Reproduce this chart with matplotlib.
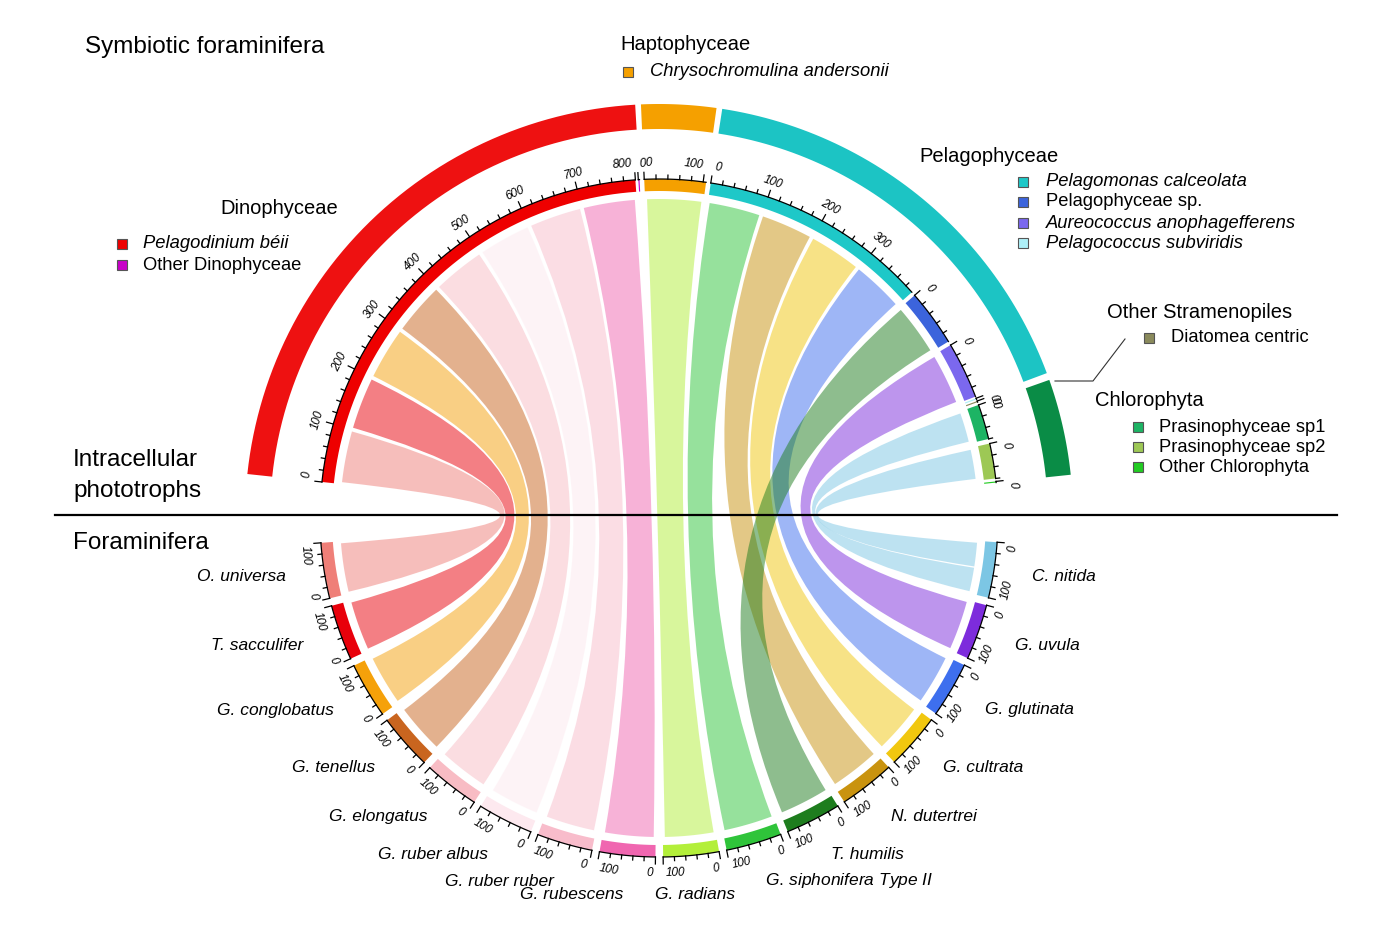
import numpy as np
import matplotlib.pyplot as plt
from matplotlib.path import Path
from matplotlib.patches import PathPatch, Polygon

plt.rcParams['font.family'] = ['Liberation Sans', 'DejaVu Sans']
plt.rcParams['mathtext.fontset'] = 'custom'
plt.rcParams['mathtext.it'] = 'Liberation Sans:italic'
plt.rcParams['mathtext.rm'] = 'Liberation Sans'

# ---- data -------------------------------------------------------------
# host sectors, clockwise from the right side of the lower half
hosts = ['C. nitida', 'G. uvula', 'G. glutinata', 'G. cultrata', 'N. dutertrei',
         'T. humilis', 'G. siphonifera Type II', 'G. radians', 'G. rubescens',
         'G. ruber ruber', 'G. ruber albus', 'G. elongatus', 'G. tenellus',
         'G. conglobatus', 'T. sacculifer', 'O. universa']
host_sizes = [100] * 16
host_colors = ['#7cc6e4', '#7d2cdc', '#3e6fee', '#f1c70f', '#c9930f',
               '#1e7d1e', '#2fc43a', '#b3ef3a', '#f066b0',
               '#f8bccb', '#fde9ef', '#f8bcc4', '#c9651f',
               '#f5a10a', '#e8000b', '#ef7f78']

# symbiont sectors, clockwise from the left side of the upper half
symbionts = ['Pelagodinium béii', 'Other Dinophyceae', 'Chrysochromulina andersonii',
             'Pelagomonas calceolata', 'Pelagophyceae sp.', 'Aureococcus anophagefferens',
             'Pelagococcus subviridis', 'Diatomea centric', 'Prasinophyceae sp1',
             'Prasinophyceae sp2', 'Other Chlorophyta']
sym_sizes = [800, 2, 105, 395, 97, 97, 2, 2, 60, 60, 2]
sym_italic = [True, False, True, True, False, True, True, False, False, False, False]
sym_colors = ['#ee0000', '#c800c8', '#f5a000', '#1ec8c8', '#3c64dc', '#7b68ee',
              '#aef0f8', '#8a8a5c', '#1db464', '#9dc855', '#22cc22']

groups = ['Dinophyceae', 'Haptophyceae', 'Pelagophyceae', 'Other Stramenopiles', 'Chlorophyta']
group_members = [[0, 1], [2], [3, 4, 5, 6], [7], [8, 9, 10]]
group_colors = ['#ee1111', '#f5a000', '#1cc4c4', None, '#0a8c46']

# links: host -> symbiont, width on host side / symbiont side
link_host = ['O. universa', 'T. sacculifer', 'G. conglobatus', 'G. tenellus',
             'G. elongatus', 'G. ruber albus', 'G. ruber ruber', 'G. rubescens',
             'G. radians', 'G. siphonifera Type II', 'N. dutertrei', 'G. cultrata',
             'G. glutinata', 'T. humilis', 'G. uvula', 'C. nitida', 'C. nitida']
link_sym = ['Pelagodinium béii'] * 8 + [
    'Chrysochromulina andersonii', 'Pelagomonas calceolata', 'Pelagomonas calceolata',
    'Pelagomonas calceolata', 'Pelagomonas calceolata', 'Pelagophyceae sp.',
    'Aureococcus anophagefferens', 'Prasinophyceae sp1', 'Prasinophyceae sp2']
link_host_w = [100] * 15 + [50, 50]
link_sym_w = [100] * 8 + [105, 99, 99, 99, 98, 97, 97, 60, 60]

# ---- geometry ---------------------------------------------------------
CX, CY = 659, 518
R_CHORD, R_TIN, R_TOUT = 319, 327, 339
R_GIN, R_GOUT = 389, 414


def pt(r, a):
    t = np.radians(a)
    return CX + r * np.cos(t), CY - r * np.sin(t)


def layout(sizes, gaps, a_start, a_end):
    k = (a_start - a_end - sum(gaps)) / sum(sizes)
    starts, a = [], a_start
    for i, s in enumerate(sizes):
        starts.append(a)
        a -= s * k
        if i < len(gaps):
            a -= gaps[i]
    return np.array(starts), k


sym_gaps = [0.5, 0.8, 0.8, 0.7, 0.7, 0.3, 0.3, 0.5, 0.8, 0.5]
sym_start, k_up = layout(sym_sizes, sym_gaps, 173.9, 6.0)
host_start, k_lo = layout(host_sizes, [1.3] * 15, -4.1, -175.8)


def band(r0, r1, a0, a1, n=60):
    aa = np.linspace(a0, a1, n)
    outer = [pt(r1, a) for a in aa]
    inner = [pt(r0, a) for a in aa[::-1]]
    return outer + inner


fig = plt.figure(figsize=(13.86, 9.33), dpi=100)
ax = fig.add_axes([0, 0, 1, 1])
ax.set_xlim(0, 1386)
ax.set_ylim(933, 0)
ax.set_aspect('equal')
ax.axis('off')


def draw_axis(a0, k, size, upper):
    aa = np.linspace(a0, a0 - size * k, 40)
    xy = np.array([pt(R_TOUT, a) for a in aa])
    ax.plot(xy[:, 0], xy[:, 1], color='black', lw=0.9, zorder=4)
    for v in range(0, int(size) + 1, 20):
        a = a0 - v * k
        major = v % 100 == 0
        p1, p2 = pt(R_TOUT, a), pt(R_TOUT + (7 if major else 4), a)
        ax.plot([p1[0], p2[0]], [p1[1], p2[1]], color='black', lw=0.9, zorder=4)
        if not major:
            continue
        if v == 0:
            ha = 'left' if upper else 'right'
            a -= 0.35
        elif size - v < 10:
            ha = 'right' if upper else 'left'
            a += 0.35
        else:
            ha = 'center'
        x, y = pt(R_TOUT + 10, a)
        ax.text(x, y, str(v), rotation=(a - 90) if upper else (a + 90),
                rotation_mode='anchor', ha=ha, va='bottom' if upper else 'top',
                fontsize=8.5, style='italic', zorder=4)


# symbiont tracks
for i, s in enumerate(sym_sizes):
    a0 = sym_start[i]
    ax.add_patch(Polygon(band(R_TIN, R_TOUT, a0, a0 - s * k_up), closed=True,
                         facecolor=sym_colors[i], edgecolor='none', zorder=3))
    draw_axis(a0, k_up, s, True)

# group arcs
for g, members in enumerate(group_members):
    if group_colors[g] is None:
        continue
    a0 = sym_start[members[0]]
    a1 = sym_start[members[-1]] - sym_sizes[members[-1]] * k_up
    ax.add_patch(Polygon(band(R_GIN, R_GOUT, a0, a1), closed=True,
                         facecolor=group_colors[g], edgecolor='none', zorder=3))

# host tracks
for i, s in enumerate(host_sizes):
    a0 = host_start[i]
    ax.add_patch(Polygon(band(R_TIN, R_TOUT, a0, a0 - s * k_lo), closed=True,
                         facecolor=host_colors[i], edgecolor='none', zorder=3))
    draw_axis(a0, k_lo, s, False)
    am = a0 - s * k_lo / 2
    x, y = pt(378, am)
    c = np.cos(np.radians(am))
    ha = 'left' if c > 0.1 else ('right' if c < -0.05 else 'center')
    name = hosts[i]
    if name.endswith('Type II'):
        name = r'$\mathit{G.\,siphonifera}$ Type II'
    ax.text(x, y, name, ha=ha, va='center', fontsize=12.5,
            style='italic', zorder=4)

# link positions on each side
h_idx = [hosts.index(h) for h in link_host]
s_idx = [symbionts.index(s) for s in link_sym]
n = len(link_host)
h_off, s_off = [0] * n, [0] * n
for i in range(len(hosts)):
    used = 0
    for j in sorted([j for j in range(n) if h_idx[j] == i], key=lambda j: -s_idx[j]):
        h_off[j] = used
        used += link_host_w[j]
for i in range(len(symbionts)):
    used = 0
    for j in sorted([j for j in range(n) if s_idx[j] == i], key=lambda j: -h_idx[j]):
        s_off[j] = used
        used += link_sym_w[j]

SH = 0.35
for j in range(n):
    hs = host_start[h_idx[j]]
    # links sharing one host sector are separated by a thinner line
    sib = sum(1 for q in h_idx if q == h_idx[j]) > 1
    hA = SH if h_off[j] == 0 or not sib else 0.12
    hB = SH if h_off[j] + link_host_w[j] >= host_sizes[h_idx[j]] or not sib else 0.12
    h0 = hs - h_off[j] * k_lo - hA
    h1 = hs - (h_off[j] + link_host_w[j]) * k_lo + hB
    ss = sym_start[s_idx[j]]
    s0 = ss - s_off[j] * k_up - SH
    s1 = ss - (s_off[j] + link_sym_w[j]) * k_up + SH
    verts, codes = [], []
    for m, a in enumerate(np.linspace(h0, h1, 30)):
        verts.append(pt(R_CHORD, a))
        codes.append(Path.MOVETO if m == 0 else Path.LINETO)
    verts += [(CX, CY), pt(R_CHORD, s0)]
    codes += [Path.CURVE3, Path.CURVE3]
    for a in np.linspace(s0, s1, 30)[1:]:
        verts.append(pt(R_CHORD, a))
        codes.append(Path.LINETO)
    verts += [(CX, CY), pt(R_CHORD, h0), (0, 0)]
    codes += [Path.CURVE3, Path.CURVE3, Path.CLOSEPOLY]
    top = link_host[j] == 'T. humilis'
    ax.add_patch(PathPatch(Path(verts, codes), facecolor=host_colors[h_idx[j]],
                           alpha=0.5, edgecolor='none', zorder=2 if top else 1))

# split line and side labels
ax.plot([55, 1337], [515, 515], color='black', lw=1.6, zorder=6)
ax.text(73, 460, 'Intracellular', fontsize=17.5, va='center')
ax.text(73, 491, 'phototrophs', fontsize=17.5, va='center')
ax.text(73, 543, 'Foraminifera', fontsize=17.5, va='center')
ax.text(85, 47, 'Symbiotic foraminifera', fontsize=17.5, va='center')

# legends
legend_pos = [
    (220, 209, 122, 143, [244, 265]),
    (620, 45, 628, 650, [72]),
    (919, 156, 1023, 1046, [182, 202, 223, 243]),
    (1107, 313, 1149, 1171, [338]),
    (1095, 400, 1138, 1159, [427, 447, 467]),
]
for g, (tx, ty, sx, lx, ys) in enumerate(legend_pos):
    ax.text(tx, ty, groups[g], fontsize=14.5, va='center')
    for m, yy in zip(group_members[g], ys):
        ax.plot(sx, yy, marker='s', ms=7.5, color=sym_colors[m],
                markeredgecolor='#555555', markeredgewidth=0.8)
        ax.text(lx, yy, symbionts[m], fontsize=13.2, va='center',
                style='italic' if sym_italic[m] else 'normal')

ax.plot([1055, 1093, 1125], [381, 381, 339], color='#333333', lw=0.8)

fig.savefig('out.png', dpi=100)
